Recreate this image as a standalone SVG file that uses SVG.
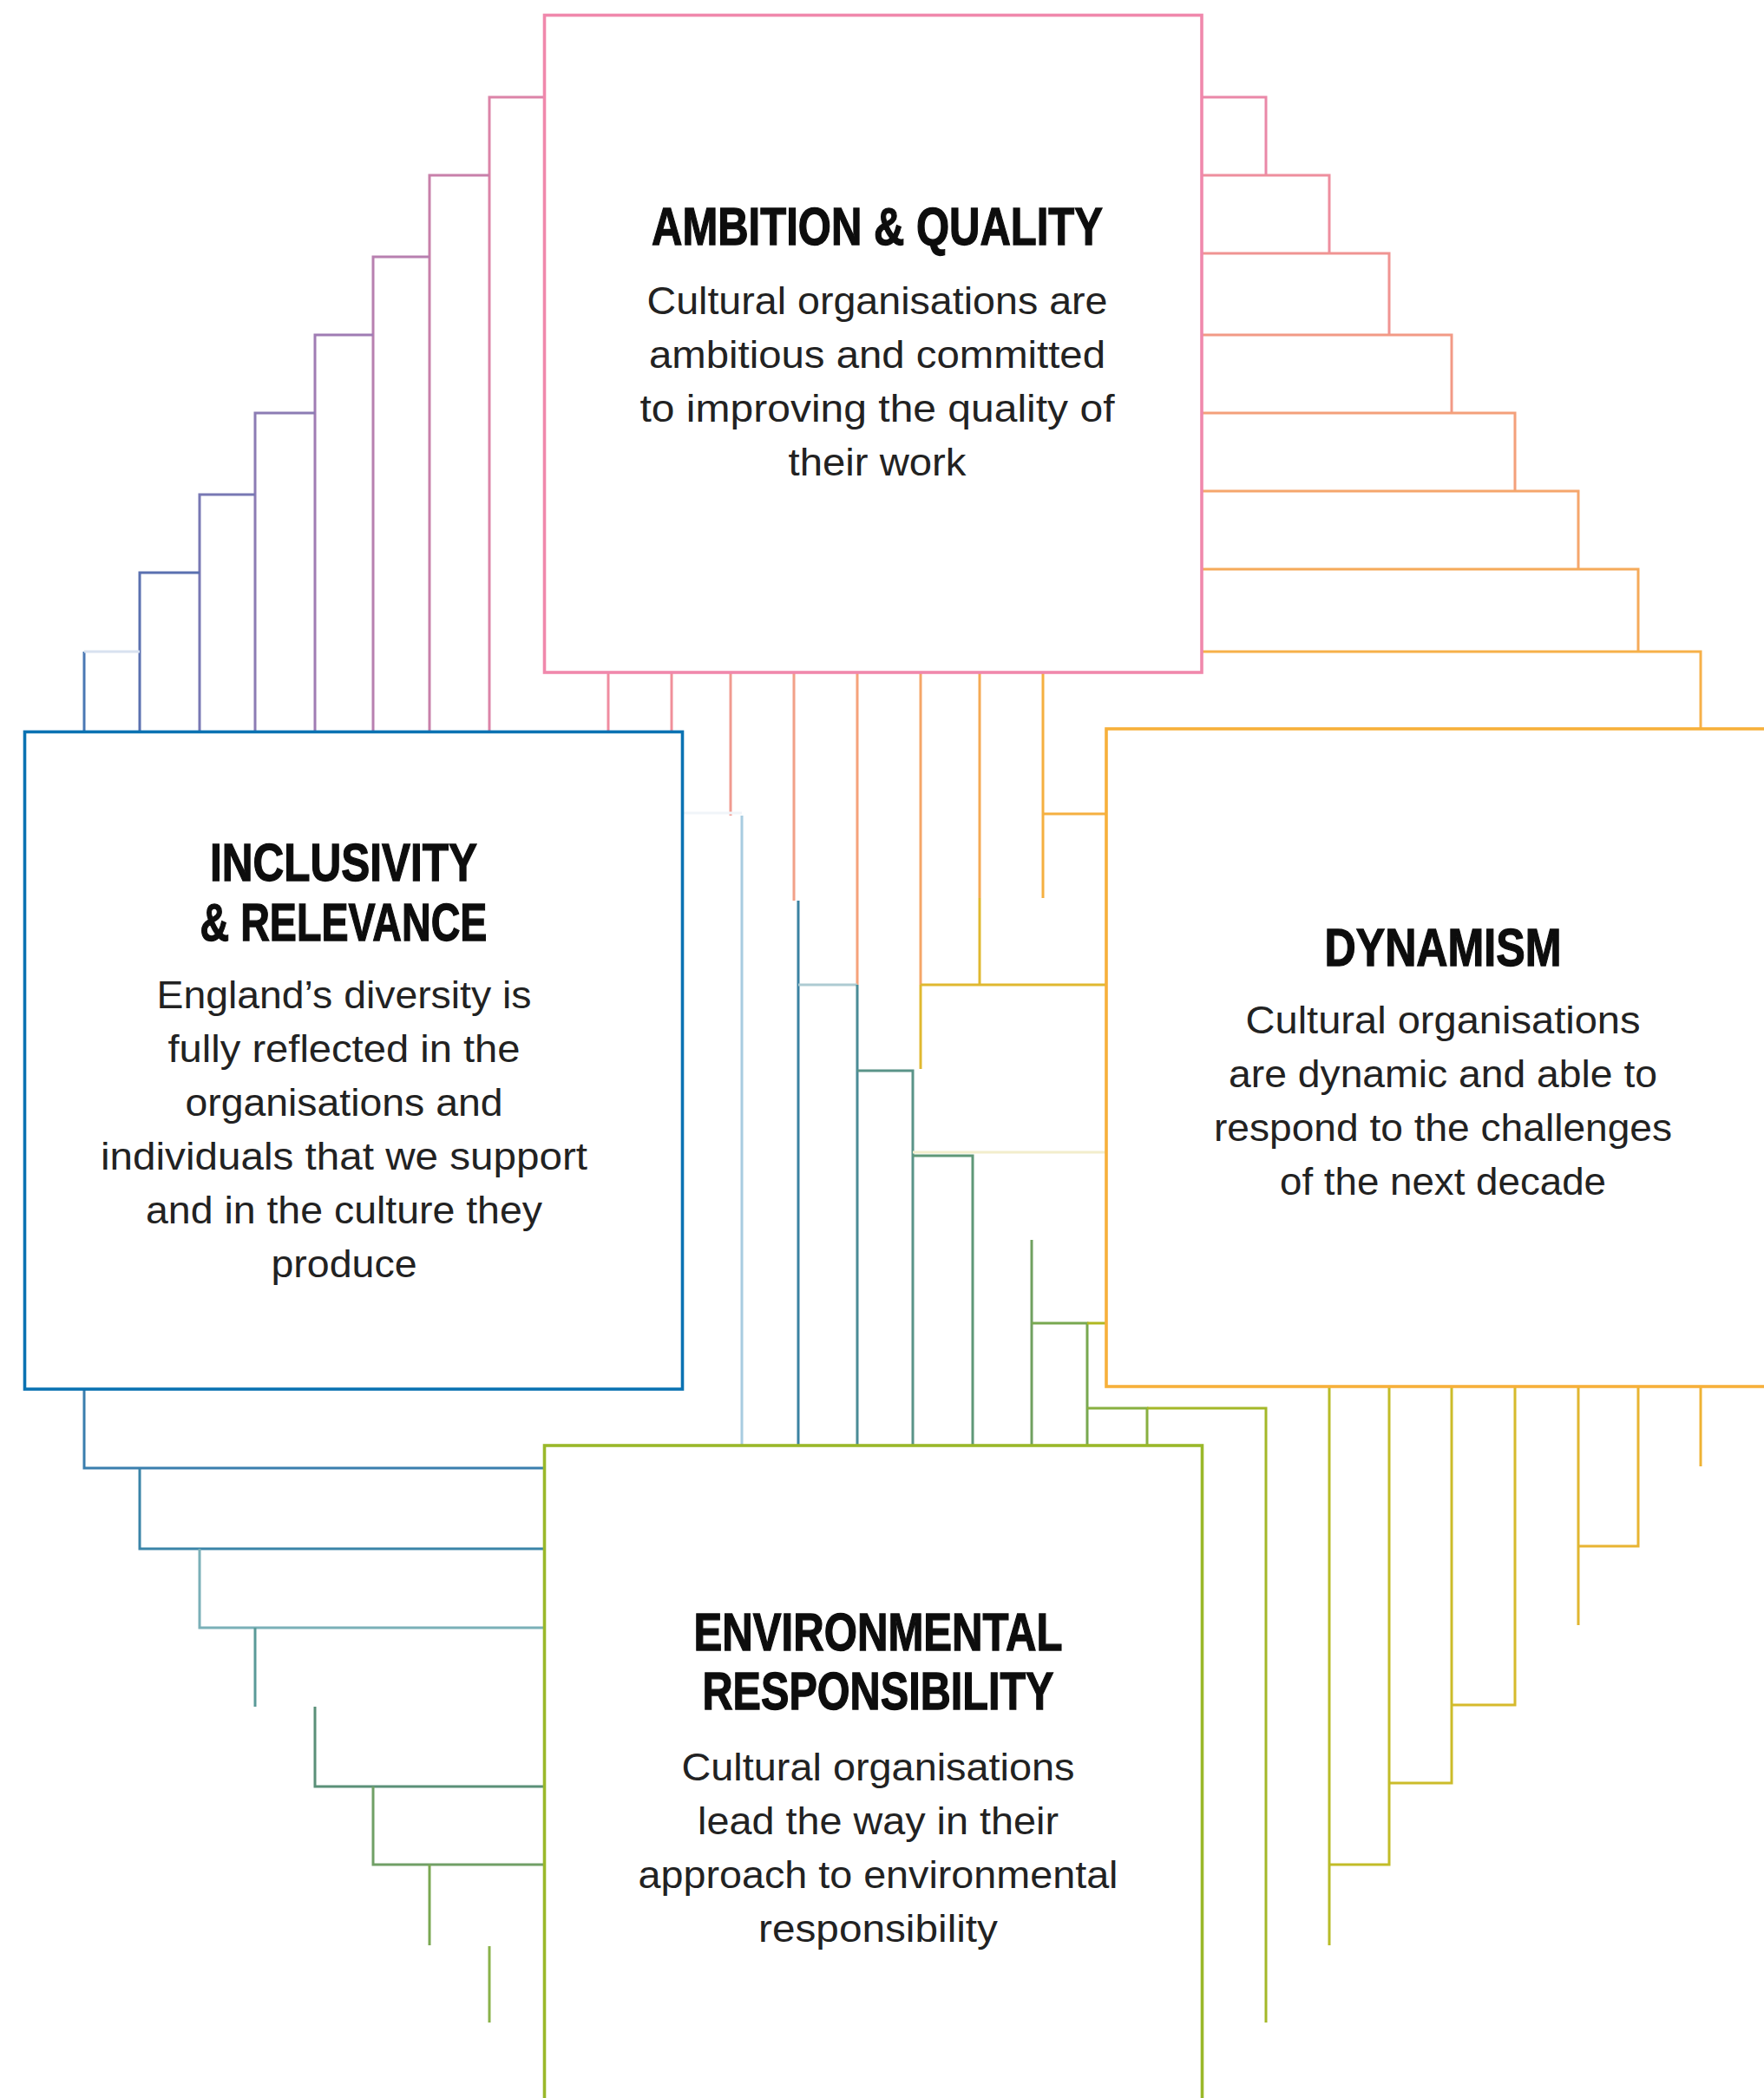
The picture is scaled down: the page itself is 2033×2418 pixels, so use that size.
<svg xmlns="http://www.w3.org/2000/svg" width="2033" height="2418" viewBox="0 0 2033 2418">
<style>
.c{fill:none;stroke-width:3;stroke-linejoin:miter;stroke-linecap:butt}
.box{fill:#fff;stroke-width:3.6}
.t{font-family:"Liberation Sans",Arial,sans-serif;font-weight:bold;font-size:61px;fill:#0d0d0d;stroke:#0d0d0d;stroke-width:1.3;text-anchor:middle}
.b{font-family:"Liberation Sans",Arial,sans-serif;font-size:45px;fill:#222;text-anchor:middle}
</style>
<rect width="2033" height="2418" fill="#fff"/>
<g id="connectors">
<path class="c" stroke="#dc84a8" d="M564 844V112H628"/>
<path class="c" stroke="#c880aa" d="M495 844V202H564"/>
<path class="c" stroke="#b880b0" d="M430 844V296H495"/>
<path class="c" stroke="#a07cb4" d="M363 844V386H430"/>
<path class="c" stroke="#8c7cb4" d="M294 844V476H363"/>
<path class="c" stroke="#7878b4" d="M230 844V570H294"/>
<path class="c" stroke="#5a70b0" d="M161 844V660H230"/>
<path class="c" stroke="#4a78b4" d="M97 844V751"/>
<path class="c" stroke="#d8e2f0" d="M97 751H161"/>
<path class="c" stroke="#ea88a8" d="M1385 112H1459V202"/>
<path class="c" stroke="#ee8e9e" d="M1385 202H1532V292"/>
<path class="c" stroke="#f09492" d="M1385 292H1601V386"/>
<path class="c" stroke="#f29a86" d="M1385 386H1673V476"/>
<path class="c" stroke="#f4a07a" d="M1385 476H1746V566"/>
<path class="c" stroke="#f5a66c" d="M1385 566H1819V656"/>
<path class="c" stroke="#f5aa5a" d="M1385 656H1888V751"/>
<path class="c" stroke="#f6b048" d="M1385 751H1960V840"/>
<path class="c" stroke="#3a7eae" d="M97 1601V1692H628"/>
<path class="c" stroke="#3a84a8" d="M161 1692V1785H628"/>
<path class="c" stroke="#7ab0b8" d="M230 1785V1876H628"/>
<path class="c" stroke="#5a9a98" d="M294 1876V1967"/>
<path class="c" stroke="#5a9078" d="M363 1967V2059H628"/>
<path class="c" stroke="#70a066" d="M430 2059V2149H628"/>
<path class="c" stroke="#7aa852" d="M495 2149V2242"/>
<path class="c" stroke="#8ab24a" d="M564 2243V2331"/>
<path class="c" stroke="#eeb234" d="M1960 1598V1690"/>
<path class="c" stroke="#e8b432" d="M1888 1598V1782H1819"/>
<path class="c" stroke="#e0b630" d="M1819 1598V1873"/>
<path class="c" stroke="#d6ba2c" d="M1746 1598V1965H1673"/>
<path class="c" stroke="#ccbc2a" d="M1673 1598V2055H1601"/>
<path class="c" stroke="#c2bc28" d="M1601 1598V2149H1532"/>
<path class="c" stroke="#b8bc28" d="M1532 1598V2242"/>
<path class="c" stroke="#f08ca0" d="M701 775V844"/>
<path class="c" stroke="#f0909a" d="M774 775V844"/>
<path class="c" stroke="#f09a90" d="M842 775V940"/>
<path class="c" stroke="#f1f5f9" d="M787 937H855"/>
<path class="c" stroke="#a8cce0" d="M855 940V1666"/>
<path class="c" stroke="#f2a088" d="M915 775V1038"/>
<path class="c" stroke="#3a82a2" d="M920 1038V1666"/>
<path class="c" stroke="#f5a27a" d="M988 775V1135"/>
<path class="c" stroke="#adcbd2" d="M920 1135H988"/>
<path class="c" stroke="#4a8c96" d="M988 1135V1666"/>
<path class="c" stroke="#5a9488" d="M988 1234H1052V1666"/>
<path class="c" stroke="#f2eecc" d="M1052 1328H1275"/>
<path class="c" stroke="#5f9878" d="M1052 1332H1121V1666"/>
<path class="c" stroke="#70a060" d="M1189 1429V1666"/>
<path class="c" stroke="#78a850" d="M1189 1525H1253V1666"/>
<path class="c" stroke="#b0b820" d="M1253 1525H1275"/>
<path class="c" stroke="#88b040" d="M1253 1623H1322V1666"/>
<path class="c" stroke="#a4b828" d="M1322 1623H1459V2331"/>
<path class="c" stroke="#f5a668" d="M1061 775V1135"/>
<path class="c" stroke="#e0b830" d="M1061 1135V1232"/>
<path class="c" stroke="#f5aa55" d="M1129 775V1035"/>
<path class="c" stroke="#e0b830" d="M1129 1035V1135"/>
<path class="c" stroke="#f5b040" d="M1202 775V1035"/>
<path class="c" stroke="#f5b040" d="M1202 938H1275"/>
<path class="c" stroke="#e0b830" d="M1061 1135H1275"/>
</g>
<g id="ambition">
<rect class="box" stroke="#f088ac" x="627.5" y="17.5" width="757.5" height="757.5"/>
<text class="t" x="1011" y="282" textLength="520" lengthAdjust="spacingAndGlyphs">AMBITION &amp; QUALITY</text>
<text class="b" x="1011" y="362" textLength="531" lengthAdjust="spacingAndGlyphs">Cultural organisations are</text>
<text class="b" x="1011" y="424" textLength="526" lengthAdjust="spacingAndGlyphs">ambitious and committed</text>
<text class="b" x="1011" y="486" textLength="547" lengthAdjust="spacingAndGlyphs">to improving the quality of</text>
<text class="b" x="1011" y="548" textLength="205" lengthAdjust="spacingAndGlyphs">their work</text>
</g>
<g id="inclusivity">
<rect class="box" stroke="#0a72b2" x="28.5" y="843.5" width="758" height="757.5"/>
<text class="t" x="396" y="1015" textLength="308" lengthAdjust="spacingAndGlyphs">INCLUSIVITY</text>
<text class="t" x="396" y="1084" textLength="331" lengthAdjust="spacingAndGlyphs">&amp; RELEVANCE</text>
<text class="b" x="396.5" y="1162" textLength="432" lengthAdjust="spacingAndGlyphs">England’s diversity is</text>
<text class="b" x="396.5" y="1224" textLength="406" lengthAdjust="spacingAndGlyphs">fully reflected in the</text>
<text class="b" x="396.5" y="1286" textLength="366" lengthAdjust="spacingAndGlyphs">organisations and</text>
<text class="b" x="396.5" y="1348" textLength="561" lengthAdjust="spacingAndGlyphs">individuals that we support</text>
<text class="b" x="396.5" y="1410" textLength="457" lengthAdjust="spacingAndGlyphs">and in the culture they</text>
<text class="b" x="396.5" y="1472" textLength="168" lengthAdjust="spacingAndGlyphs">produce</text>
</g>
<g id="dynamism">
<rect class="box" stroke="#f7b03a" x="1275" y="840" width="800" height="758"/>
<text class="t" x="1663" y="1113" textLength="273" lengthAdjust="spacingAndGlyphs">DYNAMISM</text>
<text class="b" x="1663" y="1191" textLength="455" lengthAdjust="spacingAndGlyphs">Cultural organisations</text>
<text class="b" x="1663" y="1253" textLength="494" lengthAdjust="spacingAndGlyphs">are dynamic and able to</text>
<text class="b" x="1663" y="1315" textLength="528" lengthAdjust="spacingAndGlyphs">respond to the challenges</text>
<text class="b" x="1663" y="1377" textLength="376" lengthAdjust="spacingAndGlyphs">of the next decade</text>
</g>
<g id="environmental">
<rect class="box" stroke="#9ab82a" x="627.5" y="1666" width="758" height="800"/>
<text class="t" x="1012" y="1902" textLength="425" lengthAdjust="spacingAndGlyphs">ENVIRONMENTAL</text>
<text class="t" x="1012" y="1970" textLength="405" lengthAdjust="spacingAndGlyphs">RESPONSIBILITY</text>
<text class="b" x="1012" y="2052" textLength="453" lengthAdjust="spacingAndGlyphs">Cultural organisations</text>
<text class="b" x="1012" y="2114" textLength="416" lengthAdjust="spacingAndGlyphs">lead the way in their</text>
<text class="b" x="1012" y="2176" textLength="553" lengthAdjust="spacingAndGlyphs">approach to environmental</text>
<text class="b" x="1012" y="2238" textLength="276" lengthAdjust="spacingAndGlyphs">responsibility</text>
</g>
</svg>
